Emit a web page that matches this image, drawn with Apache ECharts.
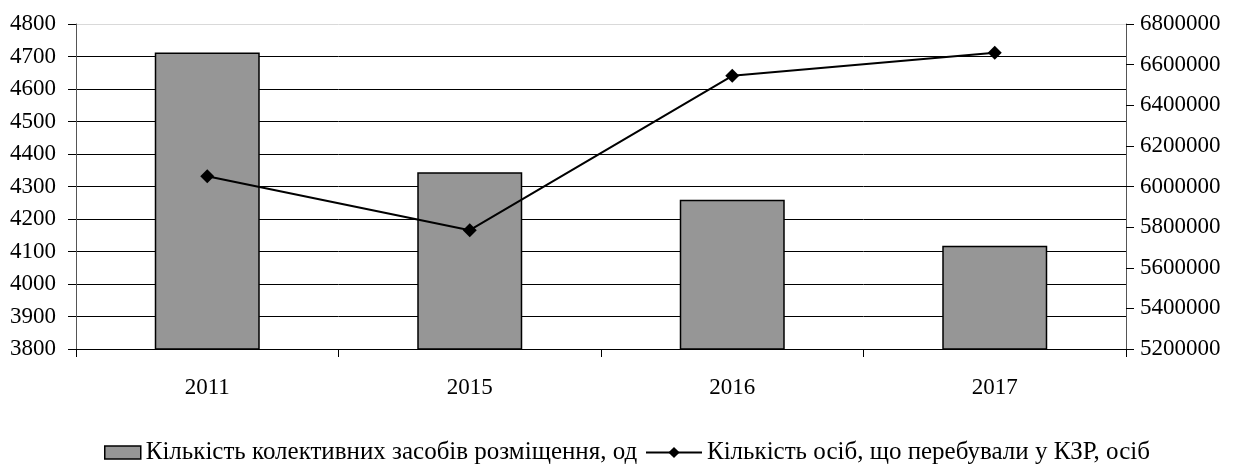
<!DOCTYPE html>
<html>
<head>
<meta charset="utf-8">
<script src="https://cdn.jsdelivr.net/npm/echarts@6/dist/echarts.min.js"></script>
<style>html,body{margin:0;padding:0;background:#fff;}#c{width:1235px;height:464px;}</style>
</head>
<body>
<div id="c"></div>
<script>
const categories = ['2011', '2015', '2016', '2017'];
const facilities = [4712, 4344, 4259, 4118];
const visitors = [6050000, 5785000, 6545000, 6658000];
const barName = 'Кількість колективних засобів розміщення, од';
const lineName = 'Кількість осіб, що перебували у КЗР, осіб';

const font = 'Liberation Serif, Times New Roman, serif';
const plain = v => String(v);
const legendText = { fontFamily: font, fontSize: 25, color: '#000' };
const gridColors = ['#000', '#000', '#000', '#000', '#000', '#000', '#000', '#000', '#000', '#000', '#d9d9d9'];
const chart = echarts.init(document.getElementById('c'));
chart.setOption({
  animation: false,
  textStyle: { fontFamily: font },
  grid: { left: 76, right: 109, top: 24, bottom: 115, containLabel: false },
  legend: [
    {
      left: 104, top: 440, padding: 0,
      itemWidth: 36, itemHeight: 13, itemGap: 0,
      textStyle: legendText,
      data: [{ name: barName, icon: 'rect', itemStyle: { color: '#969696', borderColor: '#000', borderWidth: 1.5 } }]
    },
    {
      left: 645, top: 440, padding: 0,
      itemWidth: 56, itemHeight: 14, itemGap: 0,
      textStyle: legendText,
      data: [{ name: lineName }]
    }
  ],
  xAxis: {
    type: 'category',
    data: categories,
    axisLine: { lineStyle: { color: '#000', width: 1 } },
    axisTick: { show: true, length: 8, lineStyle: { color: '#000' } },
    axisLabel: { fontFamily: font, fontSize: 23, color: '#000', margin: 27 }
  },
  yAxis: [
    {
      type: 'value', min: 3800, max: 4800, interval: 100,
      axisLine: { show: true, lineStyle: { color: '#555' } },
      axisTick: { show: true, length: 8, lineStyle: { color: '#000' } },
      axisLabel: { fontFamily: font, fontSize: 23, color: '#000', margin: 20, formatter: plain },
      splitLine: { show: true, lineStyle: { color: gridColors, width: 1 } }
    },
    {
      type: 'value', min: 5200000, max: 6800000, interval: 200000,
      position: 'right',
      axisLine: { show: true, lineStyle: { color: '#555' } },
      axisTick: { show: true, length: 8, lineStyle: { color: '#000' } },
      axisLabel: { fontFamily: font, fontSize: 23, color: '#000', margin: 14, formatter: plain },
      splitLine: { show: false }
    }
  ],
  series: [
    {
      name: barName, type: 'bar', data: facilities, yAxisIndex: 0,
      barWidth: '40%',
      itemStyle: { color: '#969696', borderColor: '#000', borderWidth: 1.5 }
    },
    {
      name: lineName, type: 'line', data: visitors, yAxisIndex: 1,
      symbol: 'diamond', symbolSize: 14,
      lineStyle: { color: '#000', width: 2 },
      itemStyle: { color: '#000' }
    }
  ]
});
</script>
</body>
</html>
